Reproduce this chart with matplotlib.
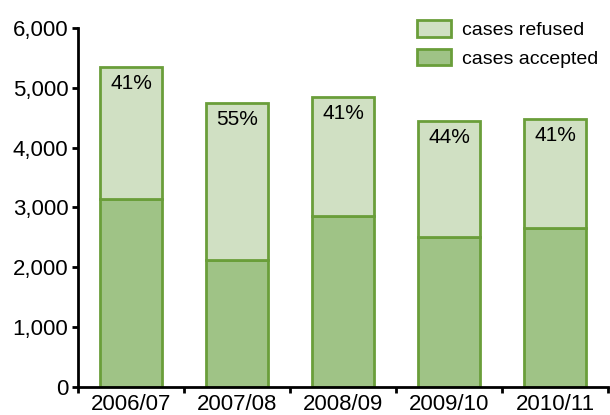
import matplotlib.pyplot as plt
import numpy as np

plt.rcParams['font.family'] = ['Liberation Sans', 'DejaVu Sans']

years = ['2006/07', '2007/08', '2008/09', '2009/10', '2010/11']
accepted = [3150, 2130, 2850, 2500, 2660]
refused = [2200, 2620, 2000, 1950, 1820]
pct_labels = ['41%', '55%', '41%', '44%', '41%']

edge = '#6a9e3a'
dark = '#9fc386'
light = '#d0e0c3'

fig = plt.figure(figsize=(6.1, 4.15), dpi=100)
ax = fig.add_axes([0.128, 0.0675, 0.869, 0.865])

x = np.arange(len(years))
totals = np.array(accepted) + np.array(refused)
ax.bar(x, accepted, width=0.58, color=dark, edgecolor=edge, linewidth=2,
       label='cases accepted')
ax.bar(x, refused, width=0.58, bottom=accepted, color=light, edgecolor=edge,
       linewidth=2, label='cases refused')

for xi, t, lab in zip(x, totals, pct_labels):
    ax.annotate(lab, (xi, t), xytext=(0, -12), textcoords='offset points',
                ha='center', va='center', fontsize=15)

ax.set_xlim(-0.5, len(years) - 0.5)
ax.set_ylim(0, 6000)
ax.set_yticks(np.arange(0, 6001, 1000))
ax.set_yticklabels(['{:,}'.format(v) for v in range(0, 6001, 1000)])
ax.set_xticks(x)
ax.set_xticklabels(years)
ax.set_xticks(np.arange(-0.5, len(years), 1.0), minor=True)
ax.tick_params(axis='x', which='major', length=0, labelsize=16, pad=5)
ax.tick_params(axis='x', which='minor', length=4, width=2, direction='out')
ax.tick_params(axis='y', length=4, width=2, labelsize=16, pad=3)

for s in ['top', 'right']:
    ax.spines[s].set_visible(False)
for s in ['left', 'bottom']:
    ax.spines[s].set_linewidth(2)

handles, labels = ax.get_legend_handles_labels()
ax.legend(handles[::-1], labels[::-1], loc='upper right',
          bbox_to_anchor=(1.015, 1.07), frameon=False,
          handlelength=1.75, handleheight=0.9, labelspacing=0.5,
          handletextpad=0.6,
          prop={'family': ['Liberation Sans Narrow', 'Liberation Sans'], 'size': 14})

fig.savefig('out.png', dpi=100)
